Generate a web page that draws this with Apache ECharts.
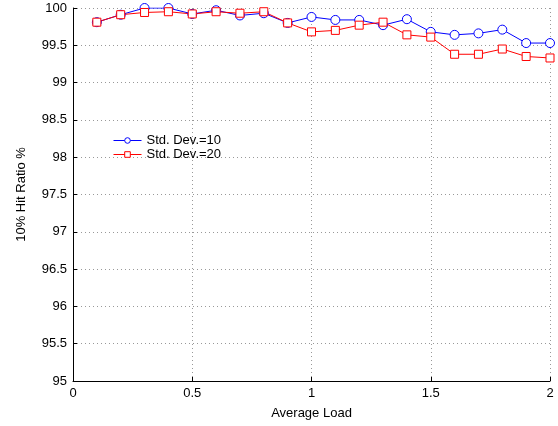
<!DOCTYPE html>
<html>
<head>
<meta charset="utf-8">
<script src="https://cdn.jsdelivr.net/npm/echarts@6/dist/echarts.min.js"></script>
<style>
  html, body { margin: 0; padding: 0; background: #fff; }
  #chart { width: 558px; height: 426px; }
</style>
</head>
<body>
<div id="chart"></div>
<script>
// hit ratio vs average load, two std. dev. settings
const loads = [0.1, 0.2, 0.3, 0.4, 0.5, 0.6, 0.7, 0.8, 0.9, 1.0,
               1.1, 1.2, 1.3, 1.4, 1.5, 1.6, 1.7, 1.8, 1.9, 2.0];
const sd10 = [99.81, 99.91, 100.0, 100.0, 99.92, 99.97, 99.9, 99.93, 99.8, 99.88,
              99.84, 99.84, 99.77, 99.85, 99.68, 99.64, 99.66, 99.71, 99.53, 99.53];
const sd20 = [99.81, 99.91, 99.94, 99.95, 99.92, 99.95, 99.93, 99.95, 99.8, 99.68,
              99.7, 99.77, 99.81, 99.64, 99.61, 99.38, 99.38, 99.45, 99.35, 99.33];
const names = ["Std. Dev.=10", "Std. Dev.=20"];

const font = "'Liberation Sans', Arial, sans-serif";
const txt = { fontFamily: font, fontSize: 13, color: "#000" };
const pair = (ys) => loads.map((x, i) => [x, ys[i]]);
const gridLine = { show: true, lineStyle: { color: "#999", type: [1, 3], width: 1 } };

const chart = echarts.init(document.getElementById("chart"));
chart.setOption({
  animation: false,
  grid: { left: 73, right: 8, top: 8, bottom: 45, outerBoundsMode: "none", containLabel: false },
  legend: {
    orient: "vertical", left: 108, top: 129, itemGap: 1,
    itemWidth: 28, itemHeight: 7,
    textStyle: txt,
    lineStyle: { width: 1 },
    itemStyle: { borderWidth: 1 },
    data: names,
  },
  xAxis: {
    type: "value", min: 0, max: 2, interval: 0.5,
    name: "Average Load", nameLocation: "middle", nameGap: 26,
    nameTextStyle: txt,
    axisLine: { lineStyle: { color: "#000", width: 1 } },
    axisTick: { inside: true, length: 4, lineStyle: { color: "#000" } },
    axisLabel: Object.assign({ margin: 6 }, txt),
    splitLine: gridLine,
  },
  yAxis: {
    type: "value", min: 95, max: 100, interval: 0.5,
    name: "10% Hit Ratio %", nameLocation: "middle", nameGap: 45,
    nameTextStyle: txt,
    axisLine: { show: true, lineStyle: { color: "#000", width: 1 } },
    axisTick: { show: true, inside: true, length: 4, lineStyle: { color: "#000" } },
    axisLabel: Object.assign({ margin: 6 }, txt),
    splitLine: gridLine,
  },
  series: [
    { name: names[0], type: "line", data: pair(sd10),
      symbol: "circle", symbolSize: 9,
      itemStyle: { color: "#fff", borderColor: "#0000ff", borderWidth: 1 },
      lineStyle: { color: "#0000ff", width: 1 } },
    { name: names[1], type: "line", data: pair(sd20),
      symbol: "rect", symbolSize: 8,
      itemStyle: { color: "#fff", borderColor: "#ff0000", borderWidth: 1 },
      lineStyle: { color: "#ff0000", width: 1 } },
  ],
});
</script>
</body>
</html>
